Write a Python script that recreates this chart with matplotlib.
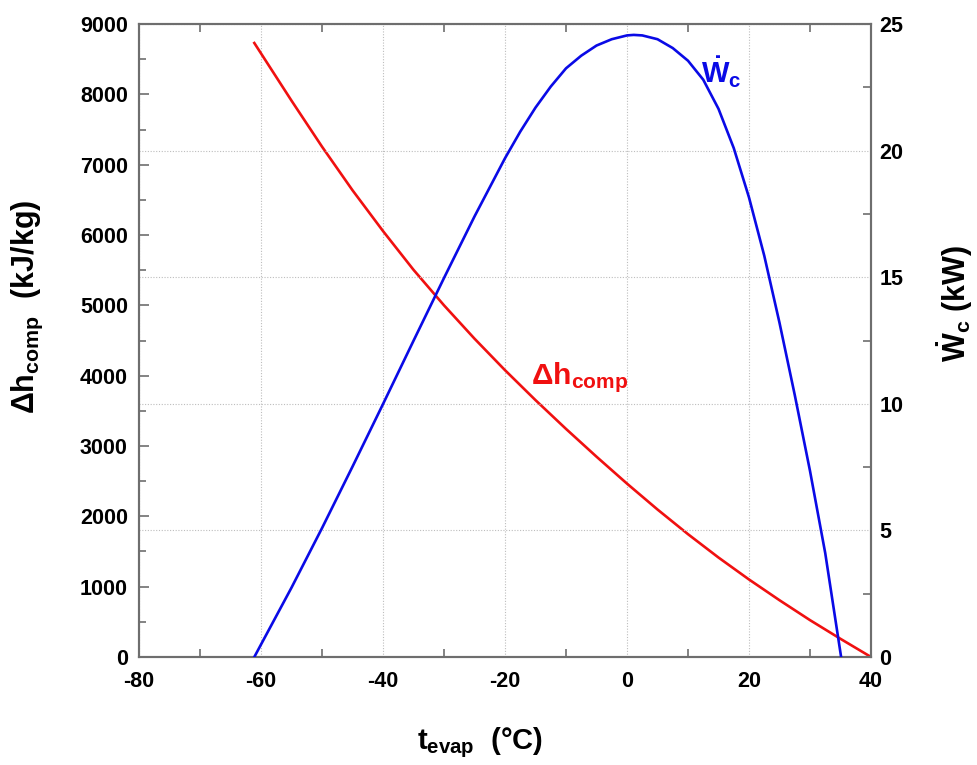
import matplotlib
matplotlib.use("Agg")
from matplotlib import pyplot as plt
from matplotlib.ticker import MultipleLocator

# values
t_dh = [-61.1, -55, -50, -45, -40, -35, -30, -25, -20, -15, -10, -5, 0, 5, 10, 15, 20, 25, 30, 35, 40]
dh_comp = [8730, 7910, 7256, 6636, 6056, 5505, 5000, 4526, 4078, 3652, 3243, 2848, 2465, 2097, 1746,
           1414, 1102, 807, 524, 258, 0]

t_w = [-61.1, -55, -50, -45, -40, -35, -30, -25, -20, -17.5, -15, -12.5, -10, -7.5, -5, -2.5, 0, 1.1,
       2.5, 5, 7.5, 10, 12.5, 15, 17.5, 20, 22.5, 25, 27.5, 30, 32.5, 35.1]
w_c = [0, 2.74, 5.09, 7.52, 9.99, 12.49, 14.97, 17.40, 19.70, 20.75, 21.70, 22.53, 23.25, 23.75, 24.15,
       24.40, 24.55, 24.57, 24.55, 24.40, 24.05, 23.55, 22.80, 21.65, 20.10, 18.15, 15.85, 13.20, 10.35,
       7.35, 4.10, 0]

x_ticks = [-80, -60, -40, -20, 0, 20, 40]

plt.rcParams["font.family"] = ["Liberation Sans", "DejaVu Sans"]
plt.rcParams["font.weight"] = "bold"
plt.rcParams["axes.unicode_minus"] = False
plt.rcParams["mathtext.fontset"] = "custom"
plt.rcParams["mathtext.rm"] = "Liberation Sans:bold"
plt.rcParams["mathtext.bf"] = "Liberation Sans:bold"
plt.rcParams["mathtext.it"] = "Liberation Sans:bold"

fig = plt.figure(figsize=(9.77, 7.65), dpi=100)
ax = fig.add_axes([0.1423, 0.1412, 0.8915 - 0.1423, 0.9686 - 0.1412])
ax2 = ax.twinx()

red = "#f01010"
blue = "#0a0ae6"
spine_col = "#6e6e6e"

ax.plot(t_dh, dh_comp, color=red, lw=1.9, zorder=3)
ax2.plot(t_w, w_c, color=blue, lw=1.9, zorder=3)

ax.set_xlim(-80, 40)
ax.set_ylim(0, 9000)
ax2.set_ylim(0, 25)
ax.set_xticks(x_ticks)
ax.xaxis.set_minor_locator(MultipleLocator(10))
ax.yaxis.set_major_locator(MultipleLocator(1000))
ax.yaxis.set_minor_locator(MultipleLocator(500))
ax2.yaxis.set_major_locator(MultipleLocator(5))
ax2.yaxis.set_minor_locator(MultipleLocator(2.5))

grid_kw = dict(color="#bdbdbd", linestyle=(0, (1, 1.5)), linewidth=0.8)
ax.grid(True, axis="x", which="major", **grid_kw)
ax2.grid(True, axis="y", which="major", **grid_kw)

ax.tick_params(axis="x", which="major", direction="in", length=0, labelsize=15.5, pad=10,
               top=True, colors=spine_col, labelcolor="black")
ax.tick_params(axis="x", which="minor", direction="in", length=6, width=1.2, top=True, colors=spine_col)
ax.tick_params(axis="y", which="major", direction="in", length=7, width=1.2, labelsize=15.5, pad=8,
               colors=spine_col, labelcolor="black")
ax.tick_params(axis="y", which="minor", direction="in", length=5, width=1.2, colors=spine_col)
ax2.tick_params(axis="y", which="major", direction="in", length=0, labelsize=15.5, pad=6,
                colors=spine_col, labelcolor="black")
ax2.tick_params(axis="y", which="minor", direction="in", length=6, width=1.2, colors=spine_col)

for a in (ax, ax2):
    for s in a.spines.values():
        s.set_color(spine_col)
        s.set_linewidth(1.5)

ax.set_xlabel(r"$\mathbf{t_{evap}}$  (°C)", fontsize=21, fontweight="bold")
ax.xaxis.set_label_coords(0.466, -0.108)
ax.set_ylabel(r"$\mathbf{\Delta h_{comp}}$  (kJ/kg)", fontsize=22, fontweight="bold")
ax.yaxis.set_label_coords(-0.128, 0.553)
ax2.set_ylabel(r"$\mathbf{\dot{W}_c}$ (kW)", fontsize=22, fontweight="bold")
ax2.yaxis.set_label_coords(1.088, 0.559)

ax.text(-15.7, 3880, r"$\mathbf{\Delta h_{comp}}$", color=red, fontsize=21.5, va="baseline")
ax2.text(12.2, 22.66, r"$\mathbf{\dot{W}_c}$", color=blue, fontsize=21, va="baseline")

fig.savefig("out.png", dpi=100)
